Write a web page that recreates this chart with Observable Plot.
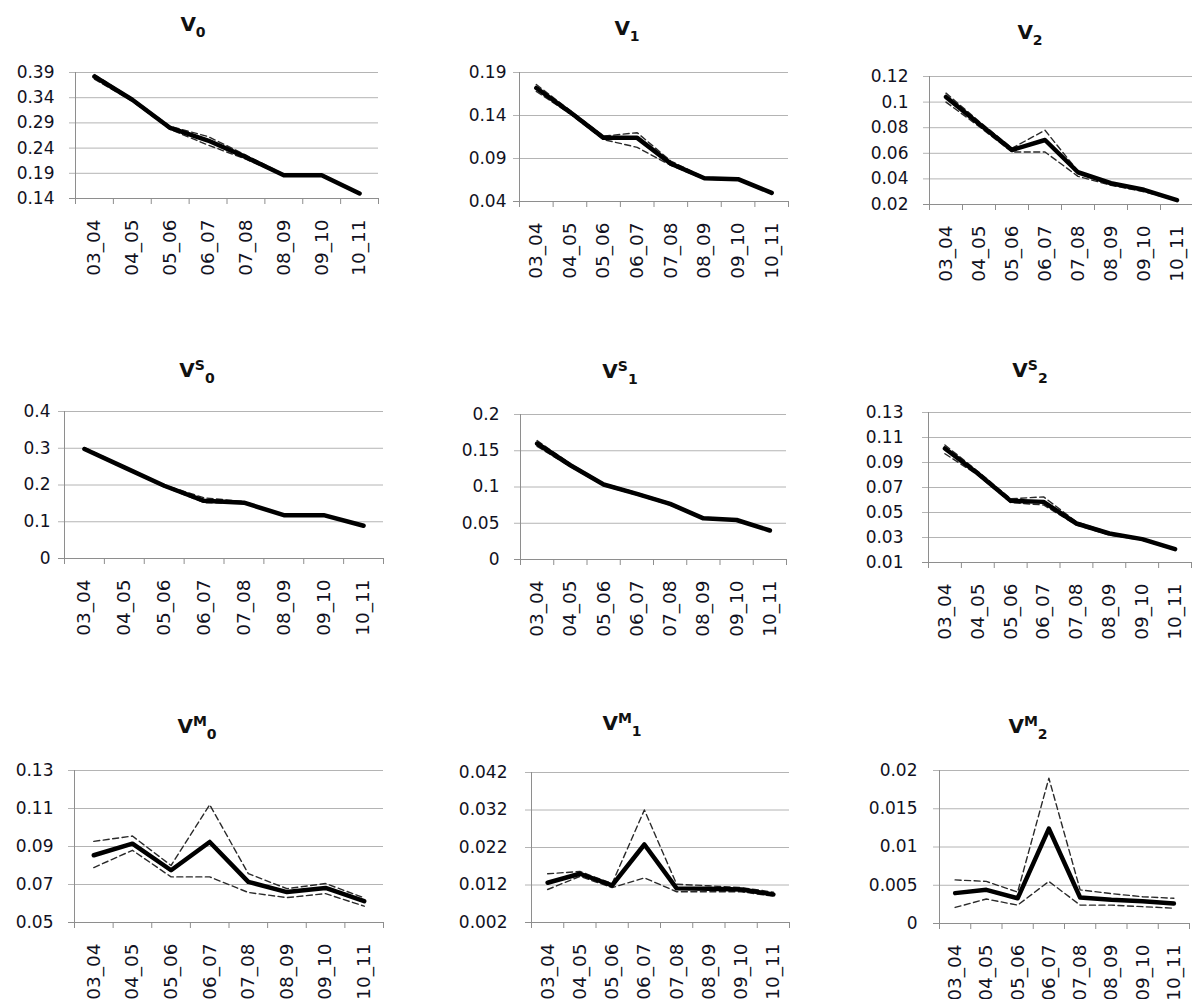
<!DOCTYPE html>
<html><head><meta charset="utf-8">
<script src="https://cdn.jsdelivr.net/npm/d3@7"></script>
<script src="https://cdn.jsdelivr.net/npm/@observablehq/plot@0.6"></script>
<style>
body{margin:0;width:1192px;height:999px;overflow:hidden;background:#fff;position:relative;font-family:"DejaVu Sans",sans-serif;}
.panel{position:absolute;}
.title{position:absolute;width:200px;text-align:center;font-weight:bold;font-size:20px;line-height:20px;color:#111;white-space:nowrap;}
.title sub,.title sup{font-size:14px;line-height:0;}
.title sub{vertical-align:-6px;}
.title sup{vertical-align:7px;}
</style></head><body>
<script>
const categories = ["03_04","04_05","05_06","06_07","07_08","08_09","09_10","10_11"];

const V0_mid   = [0.382,0.336,0.280,0.255,0.222,0.186,0.186,0.150];
const V0_upper = [0.386,0.338,0.283,0.263,0.226,0.188,0.188,0.151];
const V0_lower = [0.377,0.333,0.277,0.246,0.218,0.185,0.185,0.149];
const V0_ticks = [0.14,0.19,0.24,0.29,0.34,0.39];

const V1_mid   = [0.172,0.144,0.114,0.114,0.084,0.067,0.066,0.050];
const V1_upper = [0.176,0.146,0.116,0.120,0.087,0.068,0.067,0.051];
const V1_lower = [0.168,0.142,0.112,0.103,0.082,0.066,0.065,0.049];
const V1_ticks = [0.04,0.09,0.14,0.19];

const V2_mid   = [0.104,0.083,0.0626,0.0704,0.0452,0.0366,0.0315,0.0234];
const V2_upper = [0.107,0.085,0.064,0.078,0.046,0.037,0.032,0.024];
const V2_lower = [0.100,0.081,0.061,0.061,0.042,0.035,0.030,0.023];
const V2_ticks = [0.02,0.04,0.06,0.08,0.1,0.12];

const VS0_mid   = [0.298,0.248,0.198,0.157,0.152,0.118,0.118,0.089];
const VS0_upper = [0.302,0.250,0.200,0.165,0.155,0.119,0.119,0.090];
const VS0_lower = [0.296,0.246,0.195,0.152,0.150,0.117,0.117,0.088];
const VS0_ticks = [0,0.1,0.2,0.3,0.4];

const VS1_mid   = [0.160,0.130,0.1035,0.0905,0.0767,0.0568,0.0545,0.040];
const VS1_upper = [0.164,0.132,0.105,0.092,0.078,0.058,0.055,0.041];
const VS1_lower = [0.156,0.128,0.102,0.089,0.075,0.056,0.054,0.039];
const VS1_ticks = [0,0.05,0.1,0.15,0.2];

const VS2_mid   = [0.1012,0.0812,0.0593,0.0585,0.0412,0.0332,0.0287,0.0207];
const VS2_upper = [0.104,0.083,0.061,0.0625,0.0425,0.034,0.029,0.021];
const VS2_lower = [0.097,0.080,0.058,0.056,0.040,0.032,0.028,0.020];
const VS2_ticks = [0.01,0.03,0.05,0.07,0.09,0.11,0.13];

const VM0_mid   = [0.0854,0.0915,0.0775,0.0924,0.0714,0.066,0.0682,0.0612];
const VM0_upper = [0.0927,0.0955,0.080,0.112,0.0757,0.0678,0.0705,0.063];
const VM0_lower = [0.0789,0.088,0.074,0.074,0.0658,0.0631,0.0652,0.0586];
const VM0_ticks = [0.05,0.07,0.09,0.11,0.13];

const VM1_mid   = [0.0126,0.015,0.0119,0.0228,0.0111,0.011,0.0108,0.0095];
const VM1_upper = [0.015,0.0156,0.0124,0.032,0.0122,0.0118,0.0113,0.0101];
const VM1_lower = [0.0108,0.0143,0.0113,0.0139,0.0102,0.0102,0.0102,0.009];
const VM1_ticks = [0.002,0.012,0.022,0.032,0.042];

const VM2_mid   = [0.00397,0.0044,0.0033,0.0124,0.0034,0.0031,0.0029,0.0026];
const VM2_upper = [0.0057,0.0055,0.0041,0.019,0.0044,0.0039,0.0035,0.0033];
const VM2_lower = [0.0021,0.0032,0.0024,0.0055,0.0024,0.0024,0.0022,0.002];
const VM2_ticks = [0,0.005,0.01,0.015,0.02];

const panels = [
  {title:"V<sub>0</sub>", mid:V0_mid, upper:V0_upper, lower:V0_lower, ticks:V0_ticks,
   x0:75, x1:378, y0:72, y1:198, pad:15, tx:193, tb:31},
  {title:"V<sub>1</sub>", mid:V1_mid, upper:V1_upper, lower:V1_lower, ticks:V1_ticks,
   x0:519, x1:788, y0:72, y1:201, pad:7, tx:627, tb:35},
  {title:"V<sub>2</sub>", mid:V2_mid, upper:V2_upper, lower:V2_lower, ticks:V2_ticks,
   x0:929, x1:1193, y0:76, y1:204, pad:15, tx:1030, tb:39},
  {title:"V<sup>S</sup><sub>0</sub>", mid:VS0_mid, upper:VS0_upper, lower:VS0_lower, ticks:VS0_ticks,
   x0:64, x1:383, y0:411, y1:558, pad:8, tx:197, tb:377},
  {title:"V<sup>S</sup><sub>1</sub>", mid:VS1_mid, upper:VS1_upper, lower:VS1_lower, ticks:VS1_ticks,
   x0:520, x1:786, y0:414, y1:559, pad:15, tx:620, tb:378},
  {title:"V<sup>S</sup><sub>2</sub>", mid:VS2_mid, upper:VS2_upper, lower:VS2_lower, ticks:VS2_ticks,
   x0:928, x1:1191, y0:412, y1:562, pad:19, tx:1030, tb:377},
  {title:"V<sup>M</sup><sub>0</sub>", mid:VM0_mid, upper:VM0_upper, lower:VM0_lower, ticks:VM0_ticks,
   x0:74, x1:383, y0:770, y1:922, pad:15, tx:197, tb:733},
  {title:"V<sup>M</sup><sub>1</sub>", mid:VM1_mid, upper:VM1_upper, lower:VM1_lower, ticks:VM1_ticks,
   x0:531, x1:789, y0:772, y1:922, pad:18, tx:622, tb:730},
  {title:"V<sup>M</sup><sub>2</sub>", mid:VM2_mid, upper:VM2_upper, lower:VM2_lower, ticks:VM2_ticks,
   x0:939, x1:1189, y0:770, y1:923, pad:16, tx:1028, tb:733}
];

const ML = 80, MR = 4, MT = 10, MB = 85;
const n = categories.length;
const boundaries = d3.range(-0.5, n, 1);
const centers = d3.range(n);
const GRID = "#b4b4b4", AXIS = "#8e8e8e", INK = "#111122";

for (const p of panels) {
  const toRows = arr => arr.map((v, i) => ({i, v}));
  const ymin = d3.min(p.ticks), ymax = d3.max(p.ticks);
  const width = (p.x1 - p.x0) + ML + MR;
  const height = (p.y1 - p.y0) + MT + MB;
  const chart = Plot.plot({
    width, height,
    marginLeft: ML, marginRight: MR, marginTop: MT, marginBottom: MB,
    style: {background: "transparent", overflow: "visible", fontFamily: "'DejaVu Sans', sans-serif", maxWidth: "none"},
    x: {type: "linear", domain: [-0.5, n - 0.5], axis: null},
    y: {type: "linear", domain: [ymin, ymax], axis: null},
    marks: [
      Plot.gridY(p.ticks, {stroke: GRID, strokeOpacity: 1, strokeWidth: 1, insetLeft: -6}),
      Plot.ruleX([-0.5], {stroke: AXIS, strokeWidth: 1}),
      Plot.ruleY([ymin], {stroke: AXIS, strokeWidth: 1, insetLeft: -6}),
      Plot.axisY({ticks: p.ticks, tickSize: 6, tickPadding: p.pad, stroke: "none",
                  tickFormat: d => String(d), fontSize: 17, fill: INK, label: null}),
      Plot.axisX({ticks: boundaries, tickSize: 6, stroke: AXIS, tickFormat: () => "", label: null}),
      Plot.axisX({ticks: centers, tickSize: 0, tickPadding: 21, tickRotate: -90,
                  tickFormat: i => categories[i], fontSize: 18.5, fill: INK, label: null}),
      Plot.line(toRows(p.upper), {x: "i", y: "v", stroke: "#2a2a2a", strokeWidth: 1.4, strokeDasharray: "6,3.5"}),
      Plot.line(toRows(p.lower), {x: "i", y: "v", stroke: "#2a2a2a", strokeWidth: 1.4, strokeDasharray: "6,3.5"}),
      Plot.line(toRows(p.mid), {x: "i", y: "v", stroke: "#000", strokeWidth: 4.5, strokeLinejoin: "round"})
    ]
  });
  const div = document.createElement("div");
  div.className = "panel";
  div.style.left = (p.x0 - ML) + "px";
  div.style.top = (p.y0 - MT) + "px";
  div.style.width = width + "px";
  div.appendChild(chart);
  document.body.appendChild(div);

  const t = document.createElement("div");
  t.className = "title";
  t.innerHTML = p.title;
  t.style.left = (p.tx - 100) + "px";
  t.style.top = (p.tb - 17) + "px";
  document.body.appendChild(t);
}
</script>
</body></html>
